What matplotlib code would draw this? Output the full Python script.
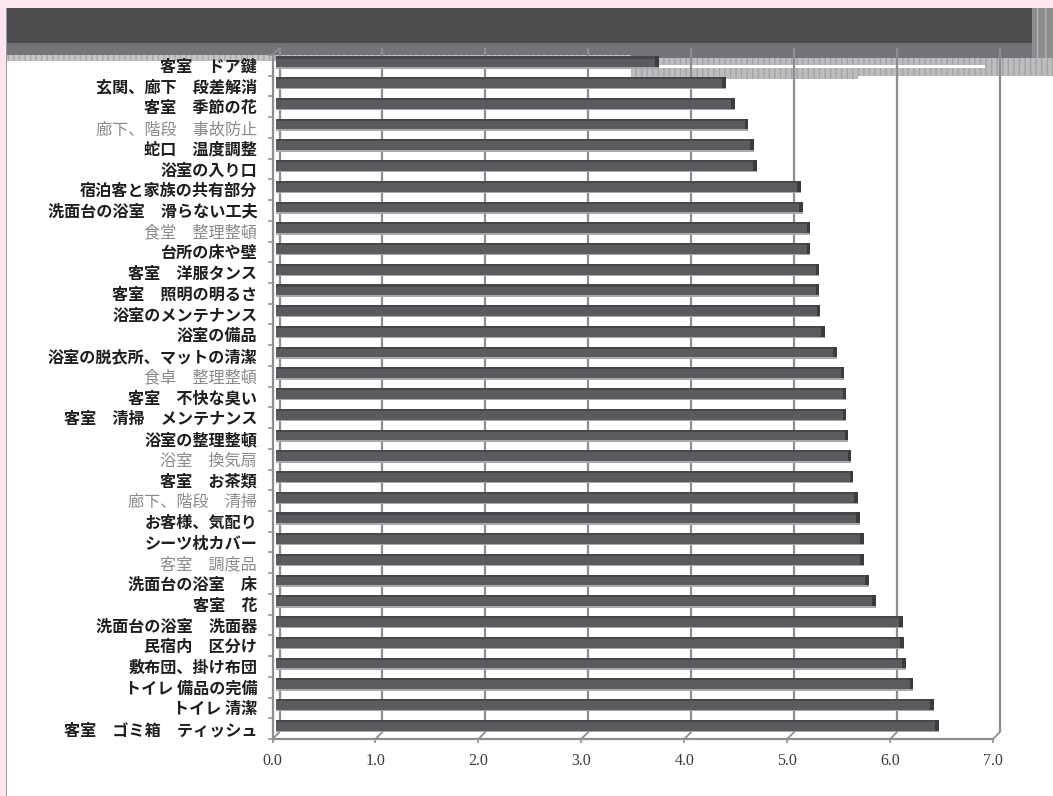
import matplotlib
matplotlib.use("Agg")
import matplotlib.pyplot as plt
from matplotlib.patches import Rectangle
from matplotlib.transforms import offset_copy

# Survey items (top to bottom) and their mean scores
items = [
    "客室　ドア鍵", "玄関、廊下　段差解消", "客室　季節の花", "廊下、階段　事故防止",
    "蛇口　温度調整", "浴室の入り口", "宿泊客と家族の共有部分", "洗面台の浴室　滑らない工夫",
    "食堂　整理整頓", "台所の床や壁", "客室　洋服タンス", "客室　照明の明るさ",
    "浴室のメンテナンス", "浴室の備品", "浴室の脱衣所、マットの清潔", "食卓　整理整頓",
    "客室　不快な臭い", "客室　清掃　メンテナンス", "浴室の整理整頓", "浴室　換気扇",
    "客室　お茶類", "廊下、階段　清掃", "お客様、気配り", "シーツ枕カバー",
    "客室　調度品", "洗面台の浴室　床", "客室　花", "洗面台の浴室　洗面器",
    "民宿内　区分け", "敷布団、掛け布団", "トイレ 備品の完備", "トイレ 清潔",
    "客室　ゴミ箱　ティッシュ",
]
scores = [
    3.72, 4.37, 4.46, 4.59, 4.64, 4.67, 5.10, 5.12, 5.19, 5.19, 5.28, 5.28,
    5.29, 5.33, 5.45, 5.52, 5.54, 5.54, 5.56, 5.59, 5.61, 5.65, 5.67, 5.71,
    5.71, 5.76, 5.83, 6.09, 6.10, 6.12, 6.19, 6.39, 6.44,
]
# items whose labels are printed in a lighter grey
muted = {"廊下、階段　事故防止", "食堂　整理整頓", "食卓　整理整頓", "浴室　換気扇",
         "廊下、階段　清掃", "客室　調度品"}
x_ticks = [0, 1, 2, 3, 4, 5, 6, 7]
x_labels = ["0.0", "1.0", "2.0", "3.0", "4.0", "5.0", "6.0", "7.0"]

W, H, DPI = 1053, 796, 100
fig = plt.figure(figsize=(W / DPI, H / DPI), dpi=DPI)
fig.patch.set_facecolor("#fde6ef")

def px_rect(x0, y0, x1, y1, z=-5, **kw):
    """Rectangle given in pixel coordinates measured from the top-left corner."""
    r = Rectangle((x0 / W, 1 - y1 / H), (x1 - x0) / W, (y1 - y0) / H,
                  transform=fig.transFigure, zorder=z, **kw)
    fig.patches.append(r)

# white page with a thin frame on the left
px_rect(6, 8, W, H, facecolor="white", edgecolor="none")
px_rect(5.5, 8, 7, H, facecolor="#9a9a9e", edgecolor="none")
# dark header band
px_rect(7, 8, 1032, 43, facecolor="#4c4c4f", edgecolor="none")
px_rect(7, 43, 1032, 58, facecolor="#747478", edgecolor="none")
px_rect(1032, 8, W, 60, facecolor="#8d8d90", edgecolor="#b5b5b8", hatch="||", lw=0)
px_rect(7, 55, 631, 61, facecolor="#c6c6c8", edgecolor="#a8a8ab", hatch="|||", lw=0)
px_rect(631, 58, W, 79, facecolor="#bdbdc0", edgecolor="#a3a3a6", hatch="|||", lw=0)
px_rect(858, 76, W, 80, facecolor="white", edgecolor="none")
px_rect(658, 65, 985, 67.5, z=-4, facecolor="white", edgecolor="none")

# plot area (front plane of the pseudo-3D chart)
left, right, top, bottom = 272.5, 993.0, 55.0, 739.0
ax = fig.add_axes([left / W, 1 - bottom / H, (right - left) / W, (bottom - top) / H])
ax.patch.set_visible(False)
n = len(items)
ax.set_xlim(0, 7)
ax.set_ylim(n - 0.5, -0.5)

grid_c = "#8e8e92"
back = offset_copy(ax.transData, fig=fig, x=7, y=7, units="dots")
mid = offset_copy(ax.transData, fig=fig, x=3.5, y=3.5, units="dots")

# back-wall gridlines
ax.vlines(x_ticks, n - 0.5, -0.5, colors=grid_c, lw=1.6, transform=back,
          clip_on=False, zorder=1)
# depth edges from the front floor line to the back wall
for xv in x_ticks:
    ax.annotate("", xy=(xv, n - 0.5), xytext=(5.04, 5.04), textcoords="offset points",
                arrowprops=dict(arrowstyle="-", color=grid_c, lw=1.3,
                                shrinkA=0, shrinkB=0), annotation_clip=False)
ax.annotate("", xy=(0, -0.5), xytext=(5.04, 5.04), textcoords="offset points",
            arrowprops=dict(arrowstyle="-", color=grid_c, lw=1.3,
                            shrinkA=0, shrinkB=0), annotation_clip=False)

# bars with a darker top face, light lower edge and shaded end
pos = list(range(n))
bh = 0.52
ax.barh(pos, scores, height=bh, color="#5b5b5f", transform=mid, zorder=3, clip_on=False)
ax.barh([p - bh / 2 + 0.05 for p in pos], scores, height=0.1, color="#48484b",
        transform=mid, zorder=4, clip_on=False)
ax.barh([p + bh / 2 + 0.035 for p in pos], scores, height=0.07, color="#a9a9ad",
        transform=mid, zorder=2, clip_on=False)
ax.barh(pos, [0.035] * n, left=[s - 0.035 for s in scores], height=bh,
        color="#3c3c3f", transform=mid, zorder=4, clip_on=False)

# axes styling
for side in ("top", "right"):
    ax.spines[side].set_visible(False)
for side in ("left", "bottom"):
    ax.spines[side].set_color(grid_c)
    ax.spines[side].set_linewidth(1.6)
    ax.spines[side].set_zorder(5)

ax.set_xticks(x_ticks)
ax.set_xticklabels(x_labels, fontfamily="Liberation Serif", fontsize=11.5, color="#3a3a3a")
ax.tick_params(axis="x", length=3, width=1.2, color=grid_c, pad=7)

ax.set_yticks(pos)
ax.set_yticklabels(items, fontfamily=["Noto Sans CJK JP", "DejaVu Sans"], fontsize=11.6)
ax.tick_params(axis="y", which="major", length=0, pad=11)
ax.set_yticks([p - 0.5 for p in range(n + 1)], minor=True)
ax.tick_params(axis="y", which="minor", length=3.5, width=1.1, color=grid_c)
for lab, name in zip(ax.get_yticklabels(), items):
    if name in muted:
        lab.set_color("#8a8a8a")
    else:
        lab.set_color("#1e1e1e")
        lab.set_fontweight("bold")

fig.savefig("out.png", dpi=DPI, facecolor=fig.get_facecolor())
